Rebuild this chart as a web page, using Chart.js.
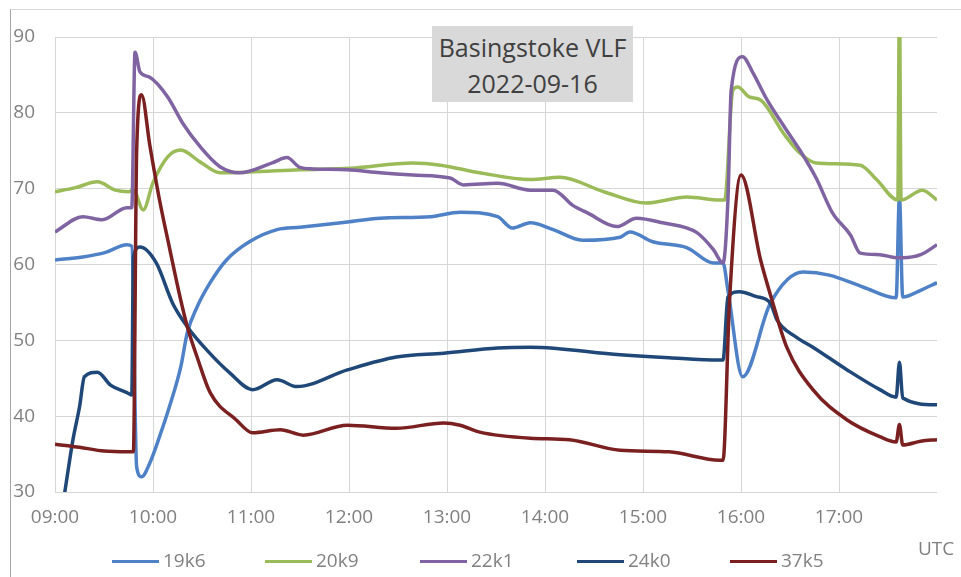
<!DOCTYPE html>
<html>
<head>
<meta charset="utf-8">
<script src="https://cdn.jsdelivr.net/npm/chart.js@4.4.1/dist/chart.umd.min.js"></script>
<style>
html,body{margin:0;padding:0;background:#fff;}
#wrap{position:relative;width:961px;height:577px;overflow:hidden;font-family:'Open Sans',sans-serif;}
#cv{position:absolute;left:0;top:0;width:961px;height:577px;}
#frame{position:absolute;left:10px;top:9px;right:-2px;bottom:-2px;border-left:1px solid #a6a6a6;border-top:1px solid #d9d9d9;pointer-events:none;}
#title{position:absolute;left:432px;top:26px;width:201px;height:76px;background:#d9d9d9;color:#404040;font-size:25px;line-height:36px;text-align:center;box-sizing:border-box;padding-top:3px;white-space:nowrap;}
#utc{position:absolute;left:918px;top:535px;font-size:19px;line-height:26px;color:#808080;}
.lgl{position:absolute;top:560px;width:47px;height:3px;}
.lgt{position:absolute;top:547px;font-size:19px;line-height:26px;color:#808080;white-space:nowrap;}
</style>
</head>
<body>
<div id="wrap">
  <div id="cv"><canvas id="chart"></canvas></div>
  <div id="frame"></div>
  <div id="title">Basingstoke VLF<br>2022-09-16</div>
  <div id="utc">UTC</div>
  <div id="legend"></div>
</div>
<script>
// ---- data (times UTC, values) ----
const seriesNames = ["19k6", "20k9", "22k1", "24k0", "37k5"];
const seriesColors = ["#4f81c7", "#9bbb59", "#8064a2", "#1f4878", "#7b2020"];
const yTicks = [30, 40, 50, 60, 70, 80, 90];
const xTickHours = [9, 10, 11, 12, 13, 14, 15, 16, 17];

const t19k6 = ["09:00","09:17","09:31","09:44","09:47","09:50","09:53","09:58","10:04","10:10","10:17","10:21","10:27","10:35","10:45","10:59","11:16","11:30","11:59","12:19","12:50","13:08","13:31","13:40","13:51","14:05","14:23","14:46","14:52","15:06","15:27","15:43","15:49","15:52","16:01","16:18","16:38","16:54","17:15","17:35","17:37","17:39","17:50","18:00"];
const v19k6 = [60.6,61.0,61.6,62.6,62.4,33.3,32.0,33.8,37.3,41.2,46.5,51.0,54.4,57.6,60.6,63.0,64.6,64.9,65.6,66.1,66.3,66.9,66.3,64.8,65.5,64.6,63.2,63.6,64.3,63.0,62.2,60.2,60.2,56.6,45.2,54.9,59.0,58.6,57.0,55.6,69.0,55.7,56.6,57.6];

const t20k9 = ["09:00","09:12","09:26","09:37","09:45","09:48","09:54","10:00","10:09","10:17","10:29","10:41","10:59","11:30","12:01","12:39","12:56","13:20","13:51","14:09","14:36","15:02","15:27","15:47","15:50","15:55","15:58","16:05","16:12","16:26","16:36","16:46","17:13","17:23","17:36","17:37","17:38","17:51","18:00"];
const v20k9 = [69.6,70.1,70.9,69.8,69.6,69.8,67.2,70.8,74.2,75.1,73.5,72.1,72.2,72.5,72.7,73.4,73.1,72.1,71.2,71.5,69.6,68.1,68.9,68.5,68.5,83.0,83.4,82.1,81.7,77.3,74.7,73.4,73.1,71.2,68.5,95.0,68.5,69.8,68.5];

const t22k1 = ["09:00","09:17","09:29","09:44","09:47","09:49","09:52","09:58","10:09","10:18","10:29","10:41","10:53","11:13","11:22","11:30","11:38","11:59","12:19","12:39","13:02","13:10","13:31","13:51","14:05","14:17","14:26","14:44","14:56","15:12","15:33","15:43","15:49","15:52","15:54","16:01","16:07","16:16","16:27","16:36","16:46","16:56","17:07","17:13","17:25","17:35","17:39","17:50","18:00"];
const v22k1 = [64.3,66.3,65.9,67.5,67.5,88.0,85.4,84.7,82.1,78.7,75.5,72.9,72.1,73.4,74.1,72.8,72.6,72.5,72.1,71.8,71.4,70.5,70.7,69.8,69.8,67.8,66.8,65.0,66.1,65.5,64.2,62.0,60.2,68.5,83.0,87.4,85.4,81.7,78.0,75.1,71.4,66.8,63.9,61.5,61.3,60.9,60.9,61.3,62.6];

const t24k0 = ["09:00","09:06","09:11","09:15","09:18","09:26","09:34","09:44","09:47","09:48","09:52","10:02","10:12","10:21","10:33","10:47","11:01","11:16","11:28","11:59","12:29","12:58","13:31","13:51","14:46","15:16","15:47","15:49","15:52","15:59","16:09","16:18","16:22","16:34","16:44","17:05","17:25","17:35","17:37","17:39","18:00"];
const v24k0 = [22.0,30.0,36.9,41.2,45.2,45.8,44.1,43.1,42.8,61.0,62.3,60.2,54.9,51.8,48.7,45.7,43.5,44.8,43.9,46.1,47.8,48.3,49.0,49.1,48.1,47.7,47.4,47.4,55.7,56.4,55.8,54.9,52.7,50.4,49.1,46.1,43.5,42.5,47.1,42.4,41.5];

const t37k5 = ["09:00","09:15","09:30","09:45","09:48","09:50","09:53","09:58","10:04","10:10","10:17","10:21","10:27","10:35","10:51","11:01","11:18","11:32","11:59","12:29","12:58","13:08","13:20","13:51","14:15","14:46","15:16","15:47","15:49","15:53","16:00","16:12","16:19","16:28","16:44","17:05","17:25","17:35","17:37","17:39","17:50","18:00"];
const v37k5 = [36.3,35.9,35.4,35.3,35.3,75.1,82.4,75.8,68.5,62.3,55.3,51.8,47.8,43.1,39.5,37.8,38.2,37.5,38.8,38.4,39.1,38.8,37.9,37.1,36.9,35.5,35.3,34.2,34.2,55.3,71.8,60.6,55.3,49.1,43.5,39.5,37.3,36.6,38.9,36.2,36.7,36.9];

// ---- build ----
function toHours(s){ const p = s.split(":"); return +p[0] + (+p[1])/60; }
function pts(ts, vs){ return ts.map((t,i)=>({x: toHours(t), y: vs[i]})); }
const allT = [t19k6, t20k9, t22k1, t24k0, t37k5];
const allV = [v19k6, v20k9, v22k1, v24k0, v37k5];

const datasets = seriesNames.map((name,i)=>({
  label: name,
  data: pts(allT[i], allV[i]),
  borderColor: seriesColors[i],
  backgroundColor: seriesColors[i],
  borderWidth: 3.5,
  pointRadius: 0,
  cubicInterpolationMode: 'monotone',
  order: seriesNames.length - i
}));

// HTML legend
const legendLeft = [112, 265, 420, 577, 730];
const lg = document.getElementById('legend');
seriesNames.forEach((n,i)=>{
  const l = document.createElement('div'); l.className='lgl';
  l.style.left = legendLeft[i]+'px'; l.style.background = seriesColors[i];
  const t = document.createElement('div'); t.className='lgt';
  t.style.left = (legendLeft[i]+51)+'px'; t.textContent = n;
  lg.appendChild(l); lg.appendChild(t);
});

Chart.defaults.font.family = "'Open Sans', sans-serif";
const gridCol = '#d6d6d6';
new Chart(document.getElementById('chart'), {
  type: 'line',
  data: { datasets },
  options: {
    responsive: true,
    maintainAspectRatio: false,
    animation: false,
    parsing: false,
    layout: { padding: { left: 0, top: 37, right: 24, bottom: 0 } },
    plugins: { legend: { display: false }, tooltip: { enabled: false } },
    scales: {
      x: {
        type: 'linear', min: 9, max: 18,
        afterBuildTicks: s => { s.ticks = xTickHours.map(v=>({value:v})); },
        afterFit: s => { s.height = 85; },
        ticks: {
          autoSkip: false, maxRotation: 0, padding: 14,
          color: '#808080', font: { size: 19 },
          callback: v => (v < 10 ? '0' : '') + v + ':00'
        },
        grid: { color: gridCol, drawTicks: false, lineWidth: 1 },
        border: { display: false }
      },
      y: {
        min: 30, max: 90,
        afterBuildTicks: s => { s.ticks = yTicks.map(v=>({value:v})); },
        afterFit: s => { s.width = 55; },
        ticks: { padding: 20, color: '#808080', font: { size: 19 } },
        grid: { color: gridCol, drawTicks: false, lineWidth: 1 },
        border: { display: false }
      }
    }
  }
});
</script>
</body>
</html>
